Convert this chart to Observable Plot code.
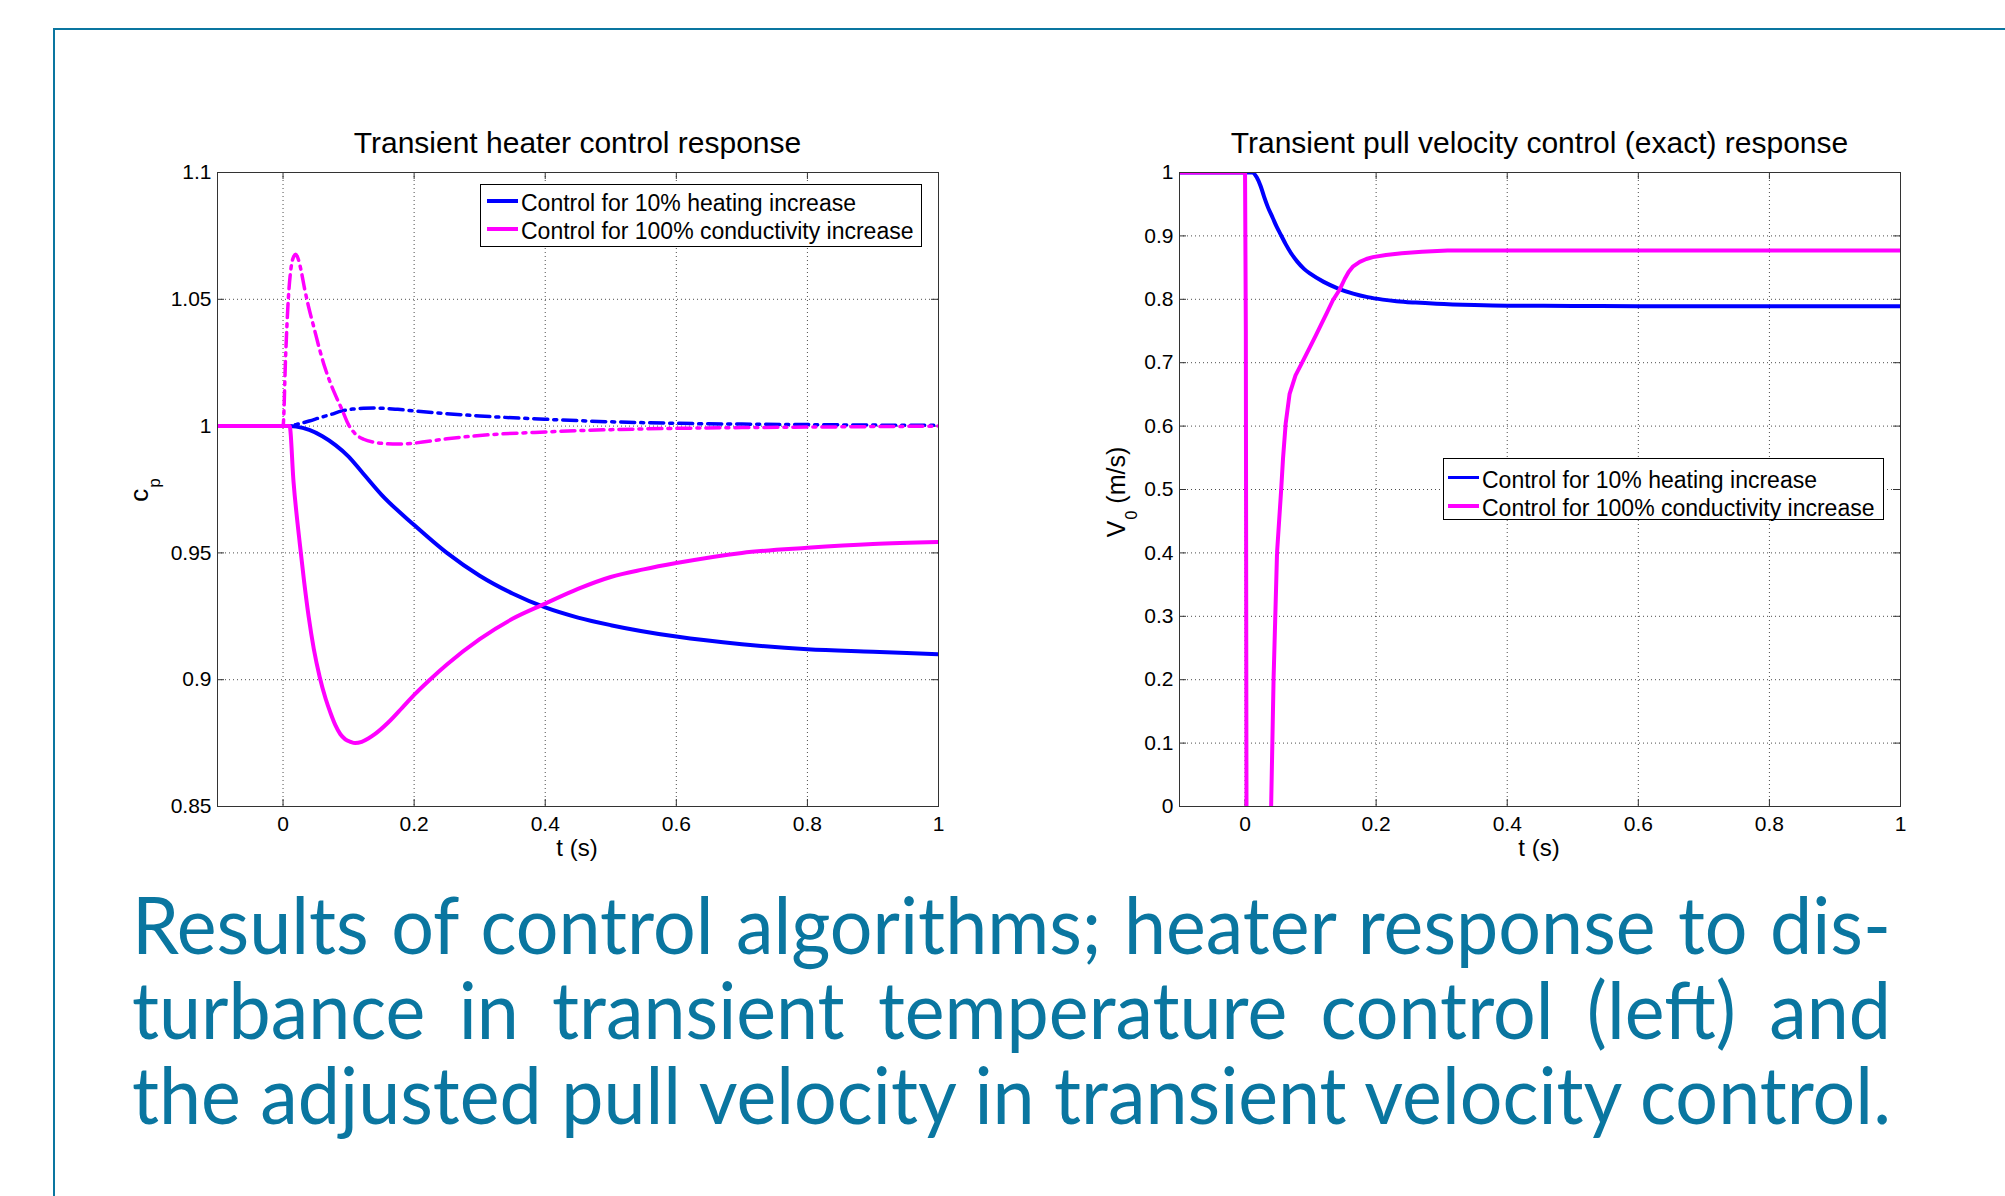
<!DOCTYPE html>
<html><head><meta charset="utf-8">
<script src="https://cdn.jsdelivr.net/npm/d3@7"></script>
<script src="https://cdn.jsdelivr.net/npm/@observablehq/plot@0.6"></script>
<style>
html,body{margin:0;padding:0;background:#fff;}
#page{position:relative;width:2005px;height:1196px;overflow:hidden;font-family:"Liberation Sans",Arial,sans-serif;color:#000;}
.abs{position:absolute;white-space:nowrap;}
.chart{position:absolute;}
.legend{position:absolute;box-sizing:border-box;border:1px solid #000;background:#fff;}
.sw{position:absolute;height:3.5px;}
</style></head><body><div id="page"></div>
<script>
// ---------- data ----------
const xTicks = [0, 0.2, 0.4, 0.6, 0.8, 1];
const leftYTicks = [0.85, 0.9, 0.95, 1, 1.05, 1.1];
const rightYTicks = [0, 0.1, 0.2, 0.3, 0.4, 0.5, 0.6, 0.7, 0.8, 0.9, 1];
const xDomain = [-0.1, 1];
const leftYDomain = [0.85, 1.1];
const rightYDomain = [0, 1];

const titles = ["Transient heater control response", "Transient pull velocity control (exact) response"];
const seriesNames = ["Control for 10% heating increase", "Control for 100% conductivity increase"];
const captionLines = [
  "Results of control algorithms; heater response to dis-",
  "turbance in transient temperature control (left) and",
  "the adjusted pull velocity in transient velocity control."
];

// left: heater control c_p, solid
const heatSolidT = [-0.1, 0, 0.01, 0.02, 0.04, 0.06, 0.08, 0.1, 0.12, 0.15, 0.2, 0.25, 0.3, 0.35, 0.4, 0.45, 0.5, 0.6, 0.7, 0.8, 0.9, 1.0];
const heatSolidV = [1, 1, 1, 0.9998, 0.9985, 0.996, 0.9925, 0.988, 0.982, 0.973, 0.961, 0.950, 0.941, 0.934, 0.9285, 0.9245, 0.9215, 0.917, 0.914, 0.912, 0.911, 0.910];
const condSolidT = [-0.1, 0, 0.01, 0.016, 0.0254, 0.032, 0.039, 0.047, 0.056, 0.065, 0.073, 0.08, 0.0875, 0.095, 0.103, 0.11, 0.12, 0.13, 0.14, 0.16, 0.182, 0.2, 0.224, 0.25, 0.3, 0.35, 0.4, 0.45, 0.5, 0.55, 0.6, 0.7, 0.8, 0.9, 1.0];
const condSolidV = [1, 1, 1, 0.978, 0.954, 0.939, 0.925, 0.912, 0.901, 0.8925, 0.8865, 0.882, 0.8785, 0.8765, 0.8755, 0.875, 0.8755, 0.8768, 0.8785, 0.883, 0.889, 0.894, 0.900, 0.906, 0.916, 0.924, 0.930, 0.9358, 0.9405, 0.9435, 0.946, 0.950, 0.952, 0.9535, 0.9543];
// left: dash-dot
const heatDashT = [-0.1, 0, 0.01, 0.02, 0.03, 0.04, 0.056, 0.073, 0.09, 0.106, 0.123, 0.14, 0.154, 0.175, 0.2, 0.25, 0.3, 0.4, 0.5, 0.6, 0.7, 0.8, 0.9, 1.0];
const heatDashV = [1, 1, 1, 1.0006, 1.0013, 1.002, 1.0033, 1.0046, 1.006, 1.0067, 1.007, 1.0071, 1.007, 1.0066, 1.006, 1.0049, 1.004, 1.0027, 1.0017, 1.0011, 1.0008, 1.0006, 1.0004, 1.0003];
const condDashT = [-0.1, 0, 0.004, 0.008, 0.012, 0.0165, 0.0195, 0.023, 0.027, 0.033, 0.039, 0.047, 0.056, 0.064, 0.073, 0.082, 0.09, 0.1, 0.11, 0.123, 0.14, 0.16, 0.175, 0.2, 0.25, 0.3, 0.4, 0.5, 0.6, 0.7, 0.8, 0.9, 1.0];
const condDashV = [1, 1, 1.028, 1.05, 1.062, 1.067, 1.0678, 1.066, 1.062, 1.054, 1.047, 1.039, 1.030, 1.023, 1.0165, 1.011, 1.0065, 1.0005, 0.997, 0.9948, 0.9936, 0.993, 0.9929, 0.9933, 0.995, 0.9963, 0.9977, 0.9986, 0.9991, 0.9994, 0.9996, 0.9998, 1.0];

// right: pull velocity V_0
const heatVT = [-0.1, 0, 0.011, 0.018, 0.024, 0.029, 0.035, 0.042, 0.048, 0.055, 0.062, 0.07, 0.08, 0.09, 0.1, 0.12, 0.143, 0.165, 0.187, 0.21, 0.231, 0.26, 0.292, 0.35, 0.4, 0.5, 0.6, 0.8, 1.0];
const heatVV = [1, 1, 1, 0.992, 0.978, 0.962, 0.945, 0.929, 0.915, 0.901, 0.887, 0.873, 0.859, 0.848, 0.840, 0.8275, 0.8166, 0.809, 0.8034, 0.7995, 0.797, 0.7948, 0.793, 0.791, 0.790, 0.7895, 0.789, 0.789, 0.789];
const condVT = [-0.1, 0, 0.0012, 0.0022, 0.003, 0.039, 0.0398, 0.0435, 0.0488, 0.055, 0.058, 0.062, 0.068, 0.077, 0.088, 0.099, 0.108, 0.116, 0.125, 0.134, 0.1445, 0.152, 0.158, 0.165, 0.175, 0.185, 0.195, 0.215, 0.239, 0.27, 0.309, 0.4, 0.6, 0.8, 1.0];
const condVV = [1, 1, 0.75, 0, -0.2, -0.2, 0, 0.2, 0.4, 0.498, 0.55, 0.604, 0.651, 0.680, 0.702, 0.7245, 0.743, 0.76, 0.779, 0.7985, 0.8155, 0.832, 0.843, 0.852, 0.859, 0.8635, 0.8665, 0.870, 0.8725, 0.875, 0.877, 0.877, 0.877, 0.877, 0.877];

const colors = ["#0000ff", "#ff00ff"];

// ---------- helpers ----------
const page = document.getElementById("page");
const rows = (T, V) => T.map((t, i) => ({t, v: V[i]}));

function el(tag, cls, css, html) {
  const e = document.createElement(tag);
  if (cls) e.className = cls;
  if (css) e.style.cssText = css;
  if (html != null) e.innerHTML = html;
  page.appendChild(e);
  return e;
}
// text placed by its baseline (Liberation Sans metrics)
function textAt(str, x, baseline, fs, align) {
  const tx = align === "center" ? "translateX(-50%)" : align === "end" ? "translateX(-100%)" : "";
  return el("div", "abs", `left:${x}px;top:${baseline - 0.8465 * fs}px;font-size:${fs}px;line-height:${fs}px;transform:${tx};`, str);
}

function chart(cfg) {
  const {left, top, width, height, ml, mr, mt, mb, yDomain, yTicks, lines} = cfg;
  const iw = width - ml - mr, ih = height - mt - mb, tl = 7;
  const tickStyle = {stroke: "#333", strokeWidth: 1};
  const grid = {stroke: "#000", strokeOpacity: 0.7, strokeDasharray: "1,3", strokeWidth: 1};
  const svg = Plot.plot({
    width, height, marginLeft: ml, marginRight: mr, marginTop: mt, marginBottom: mb,
    style: {fontFamily: "'Liberation Sans', Arial, sans-serif", fontSize: "21px", color: "#000", background: "transparent", overflow: "visible"},
    x: {domain: xDomain, label: null},
    y: {domain: yDomain, label: null},
    marks: [
      Plot.gridX(xTicks, grid),
      Plot.gridY(yTicks, grid),
      Plot.tickX(xTicks, {x: d => d, insetTop: ih - tl, ...tickStyle}),
      Plot.tickX(xTicks, {x: d => d, insetBottom: ih - tl, ...tickStyle}),
      Plot.tickY(yTicks, {y: d => d, insetRight: iw - tl, ...tickStyle}),
      Plot.tickY(yTicks, {y: d => d, insetLeft: iw - tl, ...tickStyle}),
      ...lines.map(s => Plot.line(s.data, {x: "t", y: "v", stroke: s.color, strokeWidth: s.w, strokeDasharray: s.dash, curve: s.curve, clip: true, strokeLinejoin: "round"})),
      Plot.axisX(xTicks, {tickSize: 0, tickPadding: 10, tickFormat: d => String(d), fontSize: 21}),
      Plot.axisY(yTicks, {tickSize: 0, tickPadding: 6, tickFormat: d => String(d), fontSize: 21}),
      Plot.frame({stroke: "#333", strokeWidth: 1})
    ]
  });
  svg.classList.add("chart");
  svg.style.left = left + "px";
  svg.style.top = top + "px";
  page.appendChild(svg);
}

function legend(x, y, w, h, rowYs, swL, swW, textL) {
  const box = el("div", "legend", `left:${x}px;top:${y}px;width:${w}px;height:${h}px;`);
  seriesNames.forEach((name, i) => {
    const sw = document.createElement("div");
    sw.className = "sw";
    sw.style.cssText = `left:${swL}px;top:${rowYs[i] - 1.75}px;width:${swW}px;background:${colors[i]};`;
    box.appendChild(sw);
    const t = document.createElement("div");
    t.className = "abs";
    const fs = 23;
    t.style.cssText = `left:${textL}px;top:${rowYs[i] + 10.5 - 0.8465 * fs}px;font-size:${fs}px;line-height:${fs}px;`;
    t.textContent = name;
    box.appendChild(t);
  });
}

// ---------- slide frame ----------
el("div", "", "position:absolute;left:53px;top:28px;width:1960px;height:1200px;border-top:2px solid #0a76a0;border-left:2px solid #0a76a0;box-sizing:border-box;");

// ---------- left chart ----------
chart({
  left: 100, top: 150, width: 860, height: 720, ml: 117, mr: 22, mt: 22, mb: 64,
  yDomain: leftYDomain, yTicks: leftYTicks,
  lines: [
    {data: rows(heatDashT, heatDashV), color: colors[0], w: 3.5, dash: "14,6,3,6", curve: "monotone-x"},
    {data: rows(condDashT, condDashV), color: colors[1], w: 3.5, dash: "14,6,3,6", curve: "monotone-x"},
    {data: rows(heatSolidT, heatSolidV), color: colors[0], w: 4, curve: "monotone-x"},
    {data: rows(condSolidT, condSolidV), color: colors[1], w: 4, curve: "monotone-x"}
  ]
});
// ---------- right chart ----------
chart({
  left: 1060, top: 150, width: 860, height: 720, ml: 119, mr: 20, mt: 22, mb: 64,
  yDomain: rightYDomain, yTicks: rightYTicks,
  lines: [
    {data: rows(heatVT, heatVV), color: colors[0], w: 4, curve: "monotone-x"},
    {data: rows(condVT, condVV), color: colors[1], w: 4, curve: "linear"}
  ]
});

// titles and axis labels
textAt(titles[0], 577.5, 153.5, 30, "center");
textAt(titles[1], 1539.5, 153.5, 30, "center");
textAt("t (s)", 577, 856, 24, "center");
textAt("t (s)", 1539, 856, 24, "center");
el("div", "abs", "left:141px;top:490px;font-size:26px;line-height:26px;transform:translate(-50%,-50%) rotate(-90deg);",
  'c<span style="font-size:17px;position:relative;top:12px;margin-left:1px;">p</span>');
el("div", "abs", "left:1118px;top:492px;font-size:25px;line-height:25px;transform:translate(-50%,-50%) rotate(-90deg);",
  'V<span style="font-size:16px;position:relative;top:12px;margin-left:1px;">0</span> (m/s)');

// legends
legend(480, 184, 442, 63, [16, 44], 6, 31, 40);
legend(1443, 458, 441, 62, [18.5, 47], 4, 31, 38);

// ---------- caption ----------
const targetW = 1758;
const cap = el("div", "", "position:absolute;left:132px;top:881px;font-family:Lato,'Noto Sans',sans-serif;font-size:79px;line-height:85px;color:#0a76a0;transform-origin:0 0;");
const spans = captionLines.map(t => {
  const d = document.createElement("div");
  const s = document.createElement("span");
  s.textContent = t;
  s.style.whiteSpace = "nowrap";
  d.appendChild(s);
  cap.appendChild(d);
  return s;
});
const natW = Math.max(...spans.map(s => s.getBoundingClientRect().width));
const sc = targetW / natW;
cap.style.width = (natW + 1) + "px";
cap.querySelectorAll("div").forEach(d => { d.style.textAlign = "justify"; d.style.textAlignLast = "justify"; });
spans.forEach(s => { s.style.whiteSpace = "normal"; });
cap.style.transform = `scaleX(${sc})`;
</script></body></html>
